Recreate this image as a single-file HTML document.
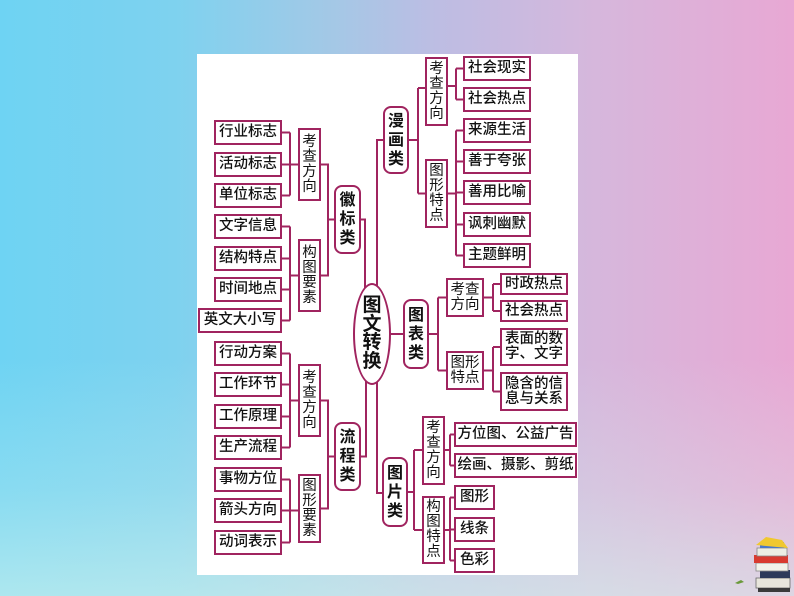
<!DOCTYPE html>
<html><head><meta charset="utf-8">
<style>
html,body{margin:0;padding:0;}
body{width:794px;height:596px;position:relative;overflow:hidden;
background:
 linear-gradient(to top, rgba(214,244,236,0.6) 0%, rgba(214,244,236,0.25) 18%, rgba(214,244,236,0) 40%),
 linear-gradient(to right, #6ed3f3 0%, #7ed2ef 22%, #a4c8e6 42%, #bdbde3 55%, #d6b7dc 75%, #e8a8d4 100%);
font-family:"Liberation Sans","Noto Sans CJK SC",sans-serif;}
#panel{position:absolute;left:197px;top:54px;width:381px;height:521px;background:#fff;}
.b{position:absolute;box-sizing:border-box;border:2px solid #a0245f;background:#fff;color:#111;
display:flex;align-items:center;justify-content:center;text-align:center;font-size:14.5px;line-height:15px;font-weight:500;white-space:nowrap;}
.v{line-height:15px;font-size:14.5px;font-weight:400;}
.c{border-radius:8px;font-size:16px;line-height:19px;font-weight:700;}
#ell{position:absolute;left:353px;top:283px;width:38px;height:102px;box-sizing:border-box;border:2px solid #a0245f;border-radius:50%;background:#fff;
display:flex;align-items:center;justify-content:center;text-align:center;font-size:19px;line-height:18.5px;font-weight:700;color:#111;}
svg{position:absolute;left:0;top:0;}
</style></head><body>
<div id="panel"></div>
<svg width="794" height="596" viewBox="0 0 794 596">
<g stroke="#a0245f" stroke-width="2" fill="none">
<path d="M290 132.5V195.5M282 132.5H290M282 164.5H298M282 195.5H290"/>
<path d="M290 226.5V320.5M282 226.5H290M282 258.5H290M282 289.5H290M282 320.5H290M290 275.5H298"/>
<path d="M321 164.5H328V275.5H321M328 219.5H334"/>
<path d="M361 219.5H365V290"/>
<path d="M290 353.5V447.5M282 353.5H290M282 384.5H290M282 416.5H290M282 447.5H290M290 400.5H298"/>
<path d="M290 479.5V542.5M282 479.5H290M282 510.5H298M282 542.5H290"/>
<path d="M321 400.5H328V508.5H321M328 456.5H334"/>
<path d="M361 456.5H366V378"/>
<path d="M383 140H377V493H382"/>
<path d="M388 334H403"/>
<path d="M408 140H418M418 88V193.5M418 88H425M418 193.5H425"/>
<path d="M448 86H456M456 68.5V99.5M456 68.5H463M456 99.5H463"/>
<path d="M456 130.5V255.5M448 193.5H456M456 130.5H463M456 161.5H463M456 192.5H463M456 224.5H463M456 255.5H463"/>
<path d="M429 334H438M438 297.5V370.5M438 297.5H446M438 370.5H446"/>
<path d="M484 297.5H493M493 284V311M493 284H500M493 311H500"/>
<path d="M484 370.5H493M493 347V391.5M493 347H500M493 391.5H500"/>
<path d="M408 492H414M414 450V530M414 450H422M414 530H422"/>
<path d="M445 450H450M450 434.5V465.5M450 434.5H454M450 465.5H454"/>
<path d="M445 530H450M450 497.5V560.5M450 497.5H454M450 529.5H454M450 560.5H454"/>
</g>
<g>
<path d="M735 583 l6 -3 l3 2 l-6 2z" fill="#6a9a3a"/>
<rect x="756" y="578" width="34" height="10" fill="#e8e6dc" stroke="#6a6a6a" stroke-width="0.8"/>
<rect x="760" y="570" width="30" height="8" fill="#2d3a5a"/>
<rect x="756" y="563" width="32" height="8" fill="#f2f2ea" stroke="#888" stroke-width="0.8"/>
<rect x="754" y="555" width="34" height="8" fill="#d83a30"/>
<rect x="757" y="548" width="30" height="8" fill="#eceee4" stroke="#888" stroke-width="0.8"/>
<rect x="760" y="542" width="24" height="6" fill="#4a78c8"/>
<path d="M756 545 l10 -8 l16 3 l6 8 z" fill="#f0c830"/>
<rect x="758" y="588" width="32" height="4" fill="#3a3a3a"/>
</g>
</svg>

<div class="b" style="left:214px;top:120px;width:68px;height:25px">行业标志</div>
<div class="b" style="left:214px;top:152px;width:68px;height:25px">活动标志</div>
<div class="b" style="left:214px;top:183px;width:68px;height:25px">单位标志</div>
<div class="b" style="left:214px;top:214px;width:68px;height:25px">文字信息</div>
<div class="b" style="left:214px;top:246px;width:68px;height:25px">结构特点</div>
<div class="b" style="left:214px;top:277px;width:68px;height:25px">时间地点</div>
<div class="b" style="left:198px;top:308px;width:84px;height:25px">英文大小写</div>
<div class="b v" style="left:298px;top:128px;width:23px;height:73px">考<br>查<br>方<br>向</div>
<div class="b v" style="left:298px;top:239px;width:23px;height:73px">构<br>图<br>要<br>素</div>
<div class="b c" style="left:334px;top:185px;width:27px;height:69px">徽<br>标<br>类</div>

<div class="b" style="left:214px;top:341px;width:68px;height:25px">行动方案</div>
<div class="b" style="left:214px;top:372px;width:68px;height:25px">工作环节</div>
<div class="b" style="left:214px;top:404px;width:68px;height:25px">工作原理</div>
<div class="b" style="left:214px;top:435px;width:68px;height:25px">生产流程</div>
<div class="b" style="left:214px;top:467px;width:68px;height:25px">事物方位</div>
<div class="b" style="left:214px;top:498px;width:68px;height:25px">箭头方向</div>
<div class="b" style="left:214px;top:530px;width:68px;height:25px">动词表示</div>
<div class="b v" style="left:298px;top:364px;width:23px;height:73px">考<br>查<br>方<br>向</div>
<div class="b v" style="left:298px;top:474px;width:23px;height:69px">图<br>形<br>要<br>素</div>
<div class="b c" style="left:334px;top:422px;width:27px;height:69px">流<br>程<br>类</div>

<div id="ell">图<br>文<br>转<br>换</div>

<div class="b c" style="left:383px;top:106px;width:26px;height:68px">漫<br>画<br>类</div>
<div class="b v" style="left:425px;top:57px;width:23px;height:69px">考<br>查<br>方<br>向</div>
<div class="b v" style="left:425px;top:159px;width:23px;height:69px">图<br>形<br>特<br>点</div>
<div class="b" style="left:463px;top:56px;width:68px;height:25px">社会现实</div>
<div class="b" style="left:463px;top:87px;width:68px;height:25px">社会热点</div>
<div class="b" style="left:463px;top:118px;width:68px;height:25px">来源生活</div>
<div class="b" style="left:463px;top:149px;width:68px;height:25px">善于夸张</div>
<div class="b" style="left:463px;top:180px;width:68px;height:25px">善用比喻</div>
<div class="b" style="left:463px;top:212px;width:68px;height:25px">讽刺幽默</div>
<div class="b" style="left:463px;top:243px;width:68px;height:25px">主题鲜明</div>

<div class="b c" style="left:403px;top:299px;width:26px;height:70px">图<br>表<br>类</div>
<div class="b v" style="left:446px;top:278px;width:38px;height:39px">考查<br>方向</div>
<div class="b v" style="left:446px;top:351px;width:38px;height:39px">图形<br>特点</div>
<div class="b" style="left:500px;top:273px;width:68px;height:22px">时政热点</div>
<div class="b" style="left:500px;top:300px;width:68px;height:22px">社会热点</div>
<div class="b" style="left:500px;top:328px;width:68px;height:38px">表面的数<br>字、文字</div>
<div class="b" style="left:500px;top:372px;width:68px;height:39px">隐含的信<br>息与关系</div>

<div class="b c" style="left:382px;top:457px;width:26px;height:70px">图<br>片<br>类</div>
<div class="b v" style="left:422px;top:416px;width:23px;height:69px">考<br>查<br>方<br>向</div>
<div class="b v" style="left:422px;top:496px;width:23px;height:68px">构<br>图<br>特<br>点</div>
<div class="b" style="left:454px;top:422px;width:123px;height:25px;font-size:14.5px">方位图、公益广告</div>
<div class="b" style="left:454px;top:453px;width:123px;height:25px;font-size:14.5px">绘画、摄影、剪纸</div>
<div class="b" style="left:454px;top:485px;width:41px;height:25px">图形</div>
<div class="b" style="left:454px;top:517px;width:41px;height:25px">线条</div>
<div class="b" style="left:454px;top:548px;width:41px;height:25px">色彩</div>
</body></html>
